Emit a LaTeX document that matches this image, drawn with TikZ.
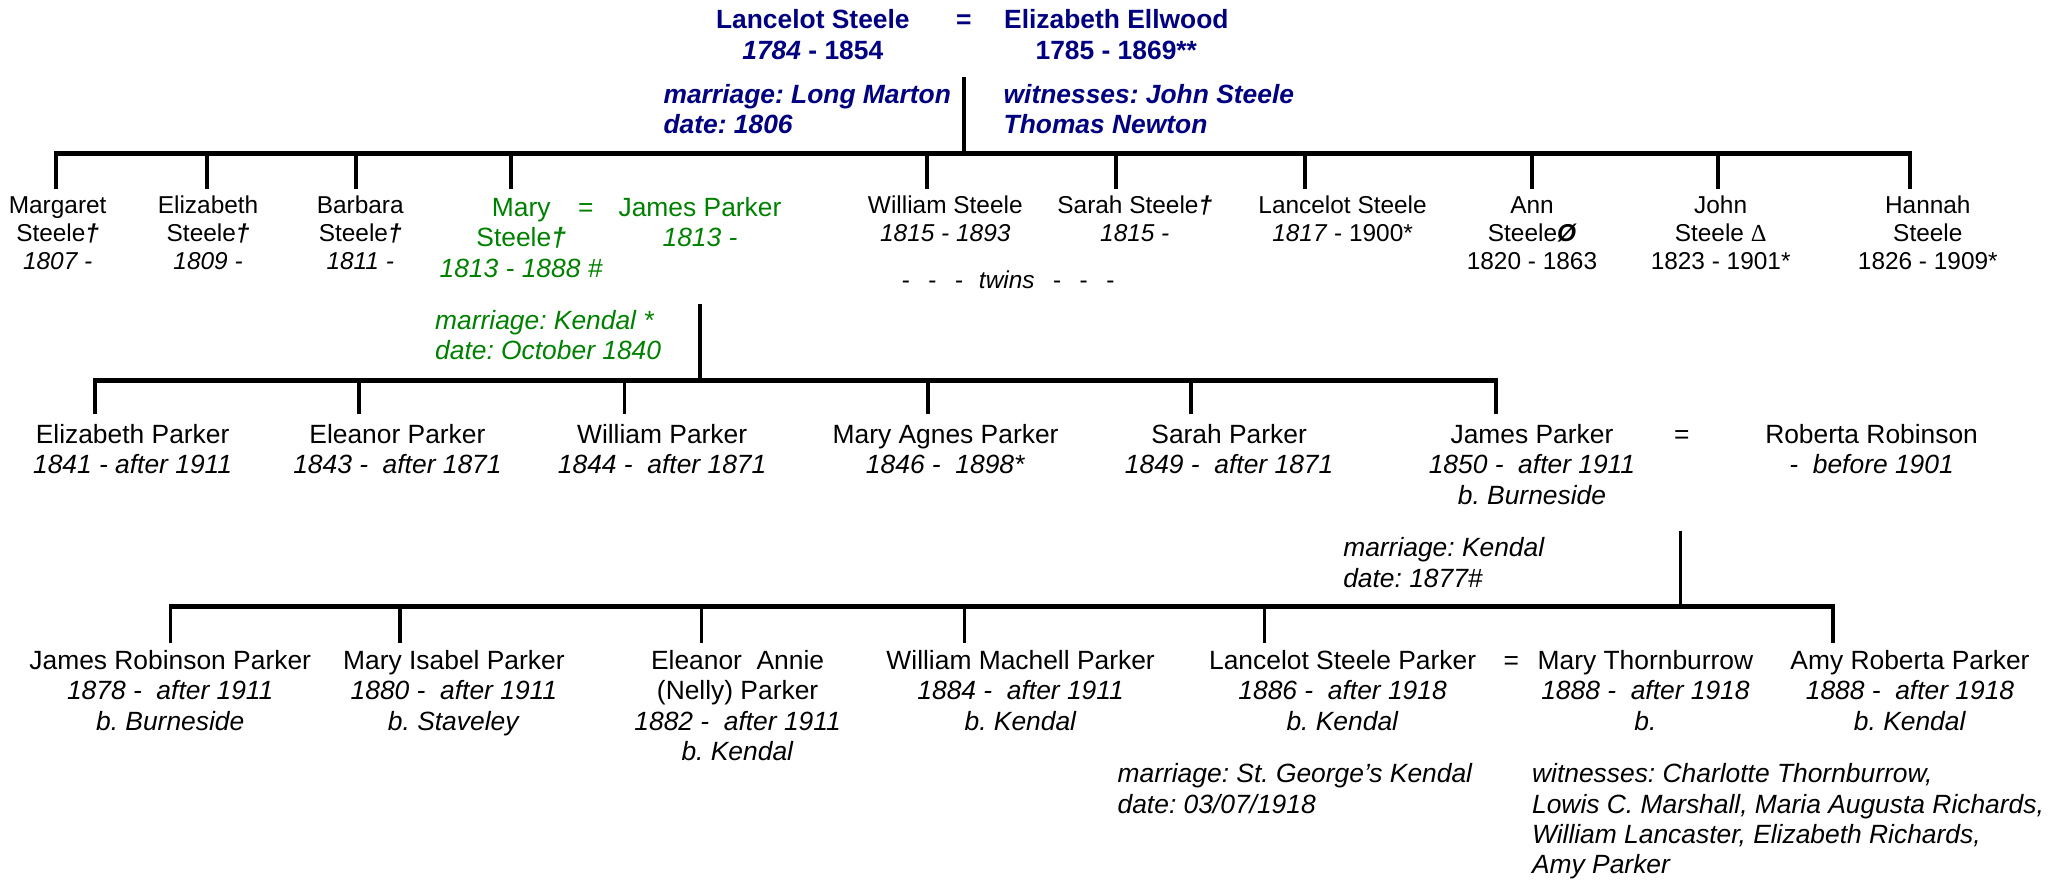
\documentclass[tikz,border=0pt]{standalone}
\usepackage{fontspec}
\setmainfont{Liberation Sans}
\newfontfamily\serifdelta{Liberation Serif}
\definecolor{navy}{RGB}{0,0,128}
\definecolor{grn}{RGB}{0,128,0}
\newcommand{\dg}{{\bfseries\itshape †}}
\frenchspacing
\begin{document}
\begin{tikzpicture}[x=1pt,y=-1pt,
  gensmall/.style={font=\fontsize{18.5}{21.3}\selectfont,align=center,anchor=base,inner sep=0pt},
  person/.style={font=\fontsize{20}{23}\selectfont,align=center,anchor=base,inner sep=0pt},
  headp/.style={font=\fontsize{20}{23.5}\selectfont\bfseries,text=navy,align=center,anchor=base,inner sep=0pt},
  headnote/.style={font=\fontsize{20}{23}\selectfont\bfseries\itshape,text=navy,align=left,anchor=base west,inner sep=0pt},
  note/.style={font=\fontsize{20}{23}\selectfont\itshape,align=left,anchor=base west,inner sep=0pt},
  greenp/.style={person,text=grn},
  barline/.style={line width=3.8pt},
  dropline/.style={line width=2.8pt}]
\useasboundingbox (0,0) rectangle (1568,667);
% (node positions give the baseline of the LAST line of each node)

% ---------- header ----------
\node[headp] (ls) at (616,45) {Lancelot Steele\\\textit{1784} - 1854};
\node[headp] (eq0) at (730.5,21.5) {=};
\node[headp] (ee) at (846,45) {Elizabeth Ellwood\\1785 - 1869**};
\node[headnote] (m0) at (502.7,101.3) {marriage: Long Marton\\date: 1806};
\node[headnote] (w0) at (760.4,101.3) {witnesses: John Steele\\Thomas Newton};

% ---------- generation 1 ----------
\node[gensmall] (g1a) at (43.7,204.3) {Margaret\\Steele\dg\\\textit{1807 -}};
\node[gensmall] (g1b) at (157.7,204.3) {Elizabeth\\Steele\dg\\\textit{1809 -}};
\node[gensmall] (g1c) at (273,204.3) {Barbara\\Steele\dg\\\textit{1811 -}};
\node[greenp] (g1d) at (395,210) {Mary\\Steele\dg\\\textit{1813 - 1888 \#}};
\node[greenp] (eq1) at (444,164) {=};
\node[greenp] (jp0) at (530.5,187) {James Parker\\\textit{1813 -}};
\node[gensmall] (g1e) at (716.4,183) {William Steele\\\textit{1815 - 1893}};
\node[gensmall] (g1f) at (860,183) {Sarah Steele\dg\\\textit{1815 -}};
\node[gensmall] (g1g) at (1017.5,183) {Lancelot Steele\\\textit{1817} - 1900*};
\node[gensmall] (g1h) at (1161,204.3) {Ann\\Steele{\bfseries\itshape Ø}\\1820 - 1863};
\node[gensmall] (g1i) at (1304,204.3) {John\\Steele {\serifdelta Δ}\\1823 - 1901*};
\node[gensmall] (g1j) at (1461,204.3) {Hannah\\Steele\\1826 - 1909*};
\node[gensmall] (twins) at (764,219) {-\hspace{14pt}-\hspace{14pt}-\hspace{12pt}\textit{twins}\hspace{14pt}-\hspace{14pt}-\hspace{14pt}-};

\coordinate (v0top) at (730.8,58.6);
\coordinate (b1L) at (41.3,116.5);
\coordinate (b1R) at (1448.9,116.5);
\draw[barline] (b1L) -- (b1R);
\draw[dropline] (v0top) -- (v0top |- b1L);
\foreach \n/\x in {a/42.7,b/157,c/270,d/387,e/702.6,f/845.8,g/988.8,h/1160.9,i/1302,j/1447.5}{
  \coordinate (d1\n) at (\x,143.5);
  \draw[dropline] (d1\n |- b1L) -- (d1\n);
}

% ---------- generation 2 ----------
\node[note,text=grn] (m1) at (329.6,272.6) {marriage: Kendal *\\date: October 1840};
\coordinate (v1top) at (530.6,230.4);
\coordinate (b2L) at (70.4,288.5);
\coordinate (b2R) at (1134.9,288.5);
\draw[barline] (b2L) -- (b2R);
\draw[dropline] (v1top) -- (v1top |- b2L);
\foreach \n/\x in {a/71.8,b/272.2,c/473.2,d/703.3,e/902.5,f/1133.5}{
  \coordinate (d2\n) at (\x,314);
  \draw[dropline] (d2\n |- b2L) -- (d2\n);
}
\node[person] (g2a) at (100.5,359) {Elizabeth Parker\\\textit{1841 - after 1911}};
\node[person] (g2b) at (301.2,359) {Eleanor Parker\\\textit{1843 - \ after 1871}};
\node[person] (g2c) at (501.8,359) {William Parker\\\textit{1844 - \ after 1871}};
\node[person] (g2d) at (716.6,359) {Mary Agnes Parker\\\textit{1846 - \ 1898*}};
\node[person] (g2e) at (931.5,359) {Sarah Parker\\\textit{1849 - \ after 1871}};
\node[person] (g2f) at (1161,382) {James Parker\\\textit{1850 - \ after 1911}\\\textit{b. Burneside}};
\node[person] (eq2) at (1274.6,336) {=};
\node[person] (rr) at (1418.4,359) {Roberta Robinson\\\textit{- \ before 1901}};

% ---------- generation 3 ----------
\node[note] (m2) at (1017.8,444.9) {marriage: Kendal\\date: 1877\#};
\coordinate (v2top) at (1273.5,402.2);
\coordinate (b3L) at (127.8,459.3);
\coordinate (b3R) at (1390.6,459.3);
\draw[barline] (b3L) -- (b3R);
\draw[dropline] (v2top) -- (v2top |- b3L);
\foreach \n/\x in {a/129.2,b/303,c/531.6,d/731,e/958.3,f/1389.2}{
  \coordinate (d3\n) at (\x,487.5);
  \draw[dropline] (d3\n |- b3L) -- (d3\n);
}
\node[person] (g3a) at (129,553.3) {James Robinson Parker\\\textit{1878 - \ after 1911}\\\textit{b. Burneside}};
\node[person] (g3b) at (344,553.3) {Mary Isabel Parker\\\textit{1880 - \ after 1911}\\\textit{b. Staveley}};
\node[person] (g3c) at (559,576.3) {Eleanor \ Annie\\(Nelly) Parker\\\textit{1882 - \ after 1911}\\\textit{b. Kendal}};
\node[person] (g3d) at (773.5,553.3) {William Machell Parker\\\textit{1884 - \ after 1911}\\\textit{b. Kendal}};
\node[person] (g3e) at (1017.5,553.3) {Lancelot Steele Parker\\\textit{1886 - \ after 1918}\\\textit{b. Kendal}};
\node[person] (eq3) at (1145.4,507.3) {=};
\node[person] (mt) at (1247,553.3) {Mary Thornburrow\\\textit{1888 - \ after 1918}\\\textit{b.}};
\node[person] (g3f) at (1447.5,553.3) {Amy Roberta Parker\\\textit{1888 - \ after 1918}\\\textit{b. Kendal}};
\node[note] (m3) at (846.8,616.2) {marriage: St. George’s Kendal\\date: 03/07/1918};
\node[note] (w3) at (1160.9,662.2) {witnesses: Charlotte Thornburrow,\\Lowis C. Marshall, Maria Augusta Richards,\\William Lancaster, Elizabeth Richards,\\Amy Parker};
\end{tikzpicture}
\end{document}
